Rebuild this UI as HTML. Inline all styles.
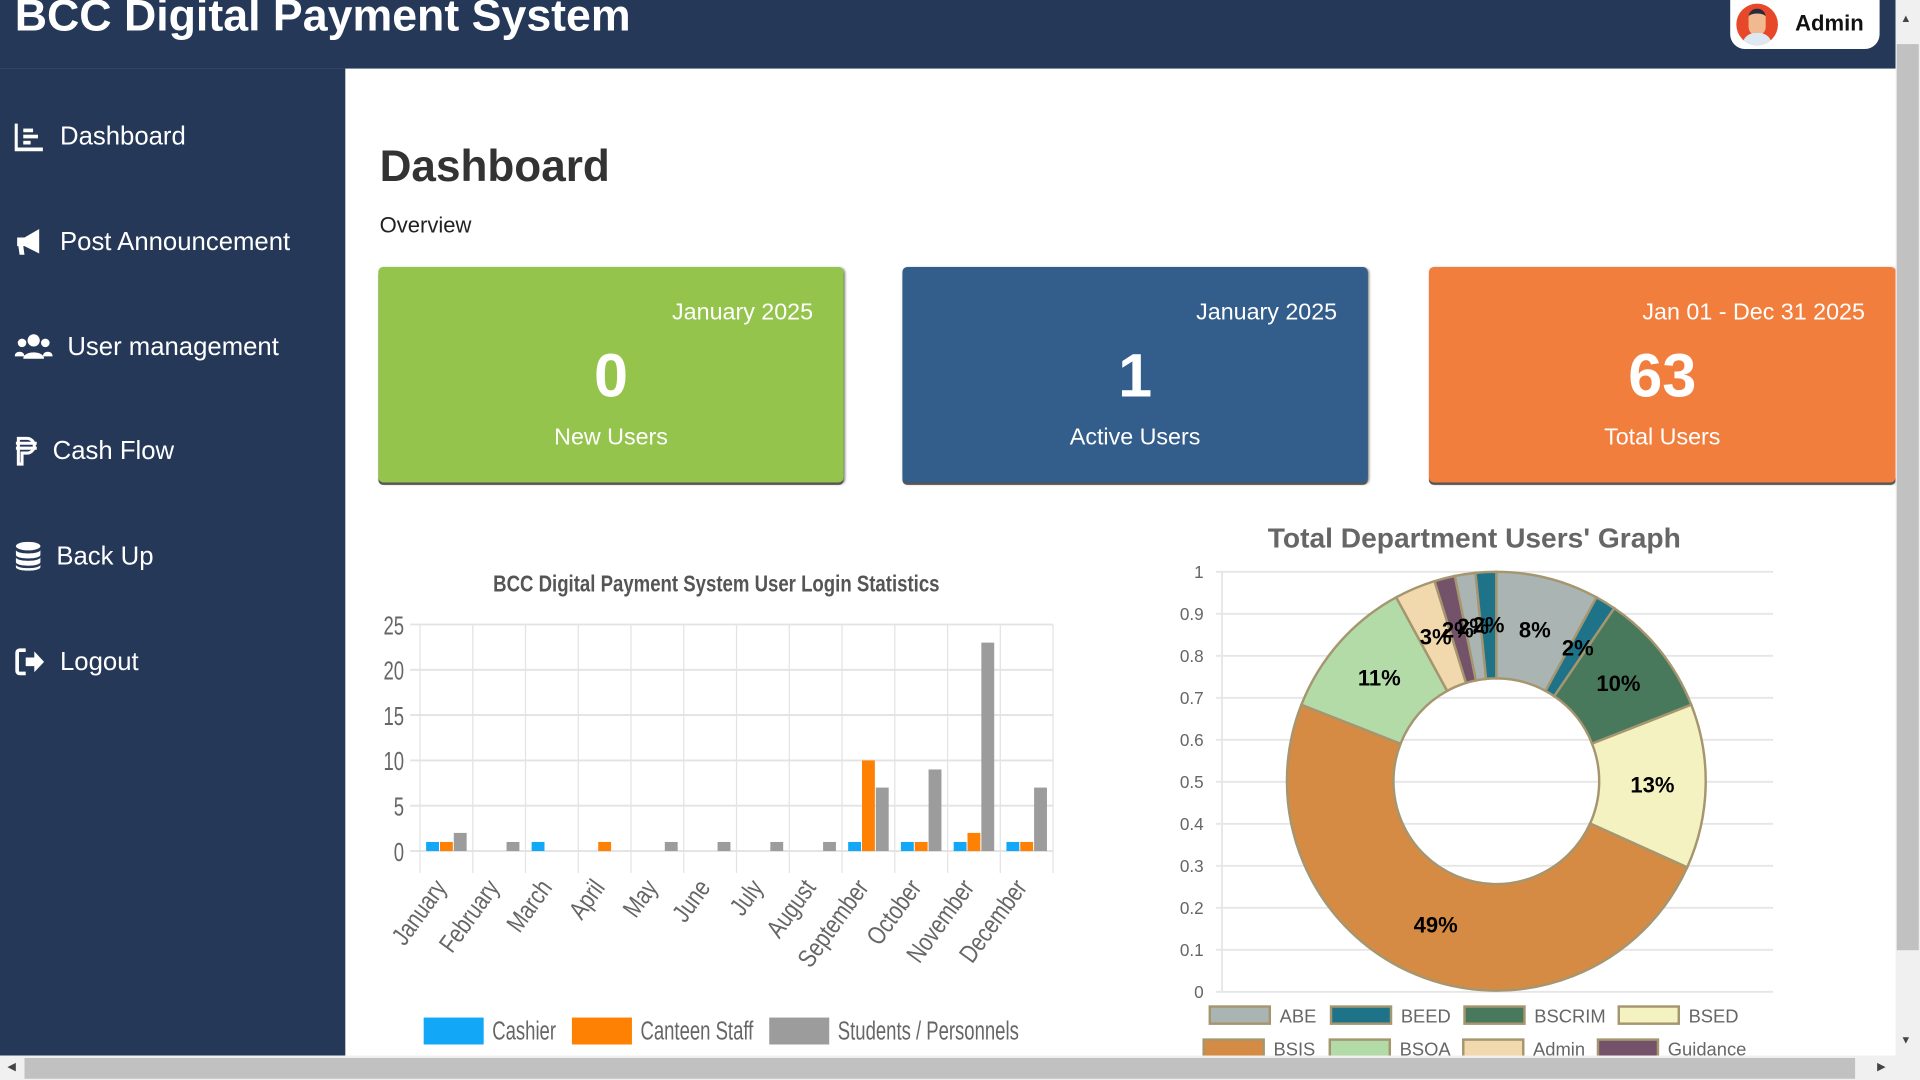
<!DOCTYPE html>
<html><head><meta charset="utf-8">
<style>
html,body{margin:0;padding:0;width:1920px;height:1080px;overflow:hidden;background:#fff;font-family:"Liberation Sans",sans-serif;}
#wrap{position:absolute;left:0;top:0;width:1568px;height:882px;transform:scale(1.22449);transform-origin:0 0;background:#fff;overflow:hidden;}
.abs{position:absolute;}
#header{left:0;top:0;width:1548px;height:56px;background:#253858;}
#title{left:12px;top:-8px;color:#fff;font-size:36.5px;font-weight:bold;white-space:nowrap;}
#sidebar{left:0;top:56px;width:282px;height:806px;background:#253858;}
.nav{position:absolute;left:12px;color:#fff;font-size:21px;display:flex;align-items:center;gap:12px;white-space:nowrap;}
.ico{width:25px;height:25px;display:inline-block;}
.card{position:absolute;top:218px;height:176px;width:380px;border-radius:4px;box-shadow:0 2px 0 #555,1px 1px 2px #777;color:#fff;}
.card .d{position:absolute;right:25px;top:27px;font-size:19px;}
.card .n{position:absolute;left:0;right:0;top:60px;text-align:center;font-size:50px;font-weight:bold;}
.card .l{position:absolute;left:0;right:0;top:129px;text-align:center;font-size:19px;}
#vscroll{left:1548px;top:0;width:20px;height:862px;background:#f0f0f0;}
#hscroll{left:0;top:862px;width:1568px;height:20px;background:#f0f0f0;}
</style></head><body>
<div id="wrap">
<div id="header" class="abs">
  <div id="title" class="abs">BCC Digital Payment System</div>
  <div class="abs" style="left:1413px;top:0;width:122px;height:40px;background:#fff;border-radius:0 0 12px 12px;">
    <div class="abs" style="left:5px;top:3px;width:34px;height:34px;border-radius:50%;background:#e8482a;overflow:hidden;">
      <div class="abs" style="left:10px;top:4px;width:14px;height:18px;border-radius:7px;background:#f0b98f;border-top:4px solid #2a2a3a;"></div>
      <div class="abs" style="left:5px;top:24px;width:24px;height:14px;border-radius:10px 10px 0 0;background:#dce9f2;"></div>
    </div>
    <div class="abs" style="left:53px;top:9px;font-size:18px;font-weight:bold;color:#111;">Admin</div>
  </div>
</div>
<div id="sidebar" class="abs"></div>
<div class="nav" style="top:99px"><svg class="ico" viewBox="0 0 25 25"><path d="M1 2v21h22" stroke="#fff" stroke-width="3" fill="none"/><rect x="7" y="6" width="8" height="3" fill="#fff"/><rect x="7" y="11" width="12" height="3" fill="#fff"/><rect x="7" y="16" width="6" height="3" fill="#fff"/></svg><span>Dashboard</span></div>
<div class="nav" style="top:185px"><svg class="ico" viewBox="0 0 25 25"><path d="M2 9h6l12-7v20L8 16H7l1 7H4l-1-7H2z" fill="#fff"/></svg><span>Post Announcement</span></div>
<div class="nav" style="top:271px"><svg class="ico" style="width:31px" viewBox="0 0 31 25"><circle cx="15.5" cy="7" r="5" fill="#fff"/><circle cx="6" cy="9" r="3.5" fill="#fff"/><circle cx="25" cy="9" r="3.5" fill="#fff"/><path d="M7 22c0-7 17-7 17 0z M0 20c0-5 8-5 8 0z M23 20c0-5 8-5 8 0z" fill="#fff"/></svg><span>User management</span></div>
<div class="nav" style="top:356px"><svg class="ico" style="width:19px" viewBox="0 0 19 25"><path d="M3 2h7a6 6 0 010 12H6v9H3zM1 6h17M1 10h17" stroke="#fff" stroke-width="2.5" fill="none"/></svg><span>Cash Flow</span></div>
<div class="nav" style="top:442px"><svg class="ico" style="width:22px" viewBox="0 0 22 25"><ellipse cx="11" cy="4" rx="10" ry="3.5" fill="#fff"/><path d="M1 7v4c0 4 20 4 20 0V7c0 4-20 4-20 0zM1 13v4c0 4 20 4 20 0v-4c0 4-20 4-20 0zM1 19v2c0 4 20 4 20 0v-2c0 4-20 4-20 0z" fill="#fff"/></svg><span>Back Up</span></div>
<div class="nav" style="top:528px"><svg class="ico" viewBox="0 0 25 25"><path d="M9 3H4a2 2 0 00-2 2v15a2 2 0 002 2h5" stroke="#fff" stroke-width="3" fill="none"/><path d="M9 9h7V4l8 8.5-8 8.5v-5H9z" fill="#fff"/></svg><span>Logout</span></div>

<div class="abs" style="left:310px;top:115px;font-size:36px;font-weight:bold;color:#333;">Dashboard</div>
<div class="abs" style="left:310px;top:174px;font-size:18px;color:#222;">Overview</div>

<div class="card" style="left:309px;background:#94c44c"><div class="d">January 2025</div><div class="n">0</div><div class="l">New Users</div></div>
<div class="card" style="left:737px;background:#335d8a"><div class="d">January 2025</div><div class="n">1</div><div class="l">Active Users</div></div>
<div class="card" style="left:1167px;width:381px;background:#f27e3e"><div class="d">Jan 01 - Dec 31 2025</div><div class="n">63</div><div class="l">Total Users</div></div>

<svg id="bar" class="abs" style="left:0;top:0" width="1568" height="882"></svg>
<svg id="donut" class="abs" style="left:0;top:0" width="1568" height="882"></svg>

<div id="vscroll" class="abs">
  <div class="abs" style="left:4px;top:10px;font-size:9px;color:#444">▲</div>
  <div class="abs" style="left:1px;top:36px;width:18px;height:740px;background:#c1c1c1"></div>
  <div class="abs" style="left:4px;top:844px;font-size:9px;color:#444">▼</div>
</div>
<div id="hscroll" class="abs">
  <div class="abs" style="left:6px;top:4px;font-size:9px;color:#444">◀</div>
  <div class="abs" style="left:20px;top:2px;width:1495px;height:17px;background:#c1c1c1"></div>
  <div class="abs" style="left:1533px;top:4px;font-size:9px;color:#444">▶</div>
</div>
</div>
<script>
const NS="http://www.w3.org/2000/svg";
function mk(parent,tag,attrs,text){const e=document.createElementNS(NS,tag);for(const k in attrs)e.setAttribute(k,attrs[k]);if(text!==undefined)e.textContent=text;parent.appendChild(e);return e;}

// ---- Bar chart data ----
const months=["January","February","March","April","May","June","July","August","September","October","November","December"];
const cashierValues=[1,0,1,0,0,0,0,0,1,1,1,1];
const canteenValues=[1,0,0,1,0,0,0,0,10,1,2,1];
const studentValues=[2,1,0,0,1,1,1,1,7,9,23,7];
const barTicks=[0,5,10,15,20,25];
const barSeriesNames=["Cashier","Canteen Staff","Students / Personnels"];

// ---- Donut data ----
const deptLabels=["ABE","BEED","BSCRIM","BSED","BSIS","BSOA","Admin","Guidance","Cashier","Canteen"];
const deptValues=[5,1,6,8,31,7,2,1,1,1];
const deptAxisTicks=[0,0.1,0.2,0.3,0.4,0.5,0.6,0.7,0.8,0.9,1];

(function(){
  const svg=document.getElementById('bar');
  const X0=343,X1=860,Y0=695,YT=510,maxV=25;
  const slot=(X1-X0)/months.length;
  const y=v=>Y0-(v/maxV)*(Y0-YT);
  const xs=i=>X0+i*slot;
  const SX=0.72;
  const t=mk(svg,'text',{x:0,y:0,'text-anchor':'middle','font-size':19,'font-weight':'bold',fill:'#555',transform:'translate(585 483) scale(0.8 1)'},'BCC Digital Payment System User Login Statistics');
  
  barTicks.forEach(v=>{
    const l=mk(svg,'line',{x1:X0-8,x2:X1,y1:y(v),y2:y(v),stroke:'#e3e3e3','stroke-width':1.5});
    
    const tx=mk(svg,'text',{x:0,y:0,'text-anchor':'end','font-size':21,fill:'#666',transform:`translate(330 ${y(v)+8}) scale(${SX} 1)`},String(v));
    
  });
  for(let i=0;i<=months.length;i++){
    const l=mk(svg,'line',{x1:xs(i),x2:xs(i),y1:YT,y2:Y0+18,stroke:'#e3e3e3','stroke-width':1});
    
  }
  const cols=['#13a7f7','#fe8103','#9c9c9c'];
  const series=[cashierValues,canteenValues,studentValues];
  const bw=10.5,step=11.3;
  months.forEach((m,i)=>{
    series.forEach((s,k)=>{
      const v=s[i]; if(!v) return;
      const r=mk(svg,'rect',{x:xs(i)+5+k*step,y:y(v),width:bw,height:Y0-y(v),fill:cols[k]});
      
    });
    const cx=xs(i)+slot/2+1, cy=Y0+30;
    const tx=mk(svg,'text',{x:0,y:0,'text-anchor':'end','font-size':21,fill:'#666',transform:`translate(${cx} ${cy}) rotate(-54) scale(0.8 1)`},m);
    
  });
  let lx=346;
  barSeriesNames.forEach((n,k)=>{
    const r=mk(svg,'rect',{x:lx,y:831,width:49,height:22,fill:cols[k]});
    
    const tx=mk(svg,'text',{x:0,y:0,'font-size':21,fill:'#666',transform:`translate(${lx+56} 849) scale(${SX} 1)`},n);
    
    let w; try{w=tx.getComputedTextLength()*SX;}catch(e){w=n.length*11*SX;}
    lx+= 56 + w + 13;
  });
})();

(function(){
  const svg=document.getElementById('donut');
  const t=mk(svg,'text',{x:1204,y:447,'text-anchor':'middle','font-size':23,'font-weight':'bold',fill:'#666'},"Total Department Users' Graph");
  
  const Y0=810,Y1=467,XL=993,XR=1448;
  const y=v=>Y0-v*(Y0-Y1);
  deptAxisTicks.forEach(v=>{
    const l=mk(svg,'line',{x1:XL,x2:XR,y1:y(v),y2:y(v),stroke:'#e6e6e6','stroke-width':1.5});
    
    const tx=mk(svg,'text',{x:983,y:y(v)+5,'text-anchor':'end','font-size':14,fill:'#666'},String(v));
    
  });
  mk(svg,'line',{x1:998,x2:998,y1:Y1,y2:Y0,stroke:'#e6e6e6','stroke-width':1.5});
  const cols=['#aab5b3','#1f7389','#48795c','#f5f2c2','#d68b45','#b3dba8','#f1d9ad','#74536a','#aab5b3','#1f7389'];
  const cx=1222,cy=638,R=171,r=84;
  const total=deptValues.reduce((a,b)=>a+b,0);
  let a=-Math.PI/2;
  const pt=(rad,ang)=>[cx+rad*Math.cos(ang),cy+rad*Math.sin(ang)];
  const labels=[];
  deptValues.forEach((v,i)=>{
    const da=v/total*2*Math.PI, b=a+da, lg=da>Math.PI?1:0;
    const [x1,y1]=pt(R,a),[x2,y2]=pt(R,b),[x3,y3]=pt(r,b),[x4,y4]=pt(r,a);
    const p=mk(svg,'path',{d:`M${x1} ${y1}A${R} ${R} 0 ${lg} 1 ${x2} ${y2}L${x3} ${y3}A${r} ${r} 0 ${lg} 0 ${x4} ${y4}Z`,fill:cols[i],stroke:'#a59670','stroke-width':2});
    
    const m=(a+b)/2;const [lx,ly]=pt((R+r)/2,m);
    labels.push([lx,ly,Math.round(v/total*100)+'%']);
    a=b;
  });
  labels.forEach(([lx,ly,s])=>{
    const tx=mk(svg,'text',{x:lx,y:ly+6,'text-anchor':'middle','font-size':18,'font-weight':'bold',fill:'#000'},s);
    
  });
  const rows=[[988,1087,1196,1322],[983,1086,1195,1305]];
  for(let i=0;i<8;i++){
    const row=Math.floor(i/4),x=rows[row][i%4],yy=row?849:822;
    const rc=mk(svg,'rect',{x:x,y:yy,width:49,height:14,fill:cols[i],stroke:'#a59670','stroke-width':2});
    
    const tx=mk(svg,'text',{x:x+57,y:yy+13,'font-size':15,fill:'#666'},deptLabels[i]);
    
  }
})();
</script>
</body></html>
